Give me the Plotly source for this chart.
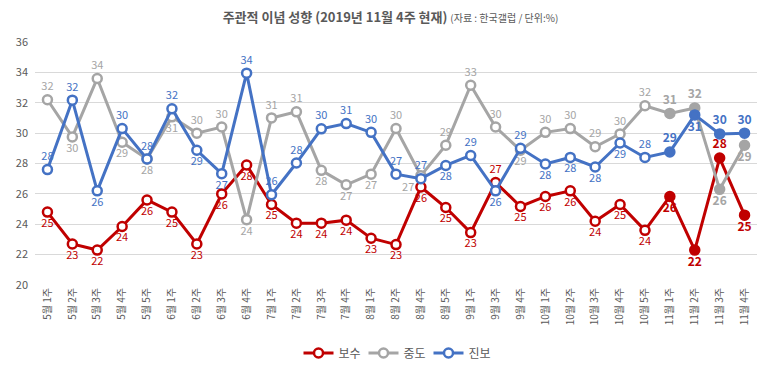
import plotly.graph_objects as go

categories = ["5월 1주", "5월 2주", "5월 3주", "5월 4주", "5월 5주",
              "6월 1주", "6월 2주", "6월 3주", "6월 4주",
              "7월 1주", "7월 2주", "7월 3주", "7월 4주",
              "8월 1주", "8월 2주", "8월 4주", "8월 5주",
              "9월 1주", "9월 3주", "9월 4주",
              "10월 1주", "10월 2주", "10월 3주", "10월 4주", "10월 5주",
              "11월 1주", "11월 2주", "11월 3주", "11월 4주"]

bosu = [24.8, 22.7, 22.3, 23.85, 25.6, 24.8, 22.7, 26.0, 27.9,
        25.3, 24.07, 24.07, 24.27, 23.08, 22.66, 26.45, 25.1,
        23.45, 26.75, 25.17, 25.83, 26.2, 24.2, 25.3, 23.6,
        25.83, 22.3, 28.36, 24.6]
jungdo = [32.2, 29.75, 33.6, 29.4, 28.3, 31.07, 30.0, 30.4, 24.3,
          31.0, 31.4, 27.55, 26.6, 27.3, 30.3, 27.2, 29.2,
          33.15, 30.4, 28.87, 30.05, 30.3, 29.1, 29.95, 31.8,
          31.3, 31.66, 26.3, 29.2]
jinbo = [27.6, 32.17, 26.2, 30.3, 28.3, 31.6, 28.87, 27.33, 33.95,
         25.94, 28.03, 30.28, 30.63, 30.05, 27.3, 27.0, 27.87,
         28.53, 26.2, 29.0, 27.97, 28.4, 27.77, 29.35, 28.4,
         28.76, 31.2, 29.95, 30.0]

# label placement: T = above, B = below, L = below-left
bosu_pos = "BBBBBBBBBBBBBBBBBBTBBBBBBBBTB"
jungdo_pos = "TBTBBBTTBTTBBBTLTTTBTTTTTTTBB"
jinbo_pos = "TTBTTTBBTTTTTTTTBTBTBBBBTTBTT"
POS = {"T": "top center", "B": "bottom center", "L": "bottom left"}

N_FILLED = 4  # last weeks drawn with filled markers and bold labels

series = [("보수", bosu, bosu_pos, "#C00000"),
          ("중도", jungdo, jungdo_pos, "#A5A5A5"),
          ("진보", jinbo, jinbo_pos, "#4472C4")]

FONT = "Noto Sans CJK KR"

fig = go.Figure()
n = len(categories)
for name, vals, pos, col in series:
    texts = []
    for i, v in enumerate(vals):
        t = str(int(v + 0.5))
        if i >= n - N_FILLED:
            t = "<b>" + t + "</b>"
        texts.append(t)
    tpos = [POS[p] for p in pos]
    mcol = ["white" if i < n - N_FILLED else col for i in range(n)]
    tsize = [11 if i < n - N_FILLED else 12 for i in range(n)]
    fig.add_trace(go.Scatter(
        x=categories, y=vals, name=name, mode="lines+markers+text",
        line=dict(color=col, width=3),
        marker=dict(symbol="circle", size=9, color=mcol,
                    line=dict(color=col, width=2.5)),
        text=texts, textposition=tpos,
        textfont=dict(color=col, size=tsize, family=FONT),
        cliponaxis=False,
    ))

# page body adds an 8px margin, so the figure is sized to fit the window
fig.update_layout(
    width=765, height=370,
    margin=dict(l=27, r=16, t=34, b=93, autoexpand=False),
    paper_bgcolor="white", plot_bgcolor="white",
    font=dict(family=FONT, color="#595959", size=11),
    title=dict(
        text="<b>주관적 이념 성향 (2019년 11월 4주 현재)</b> "
             "<span style='font-size:10px'>(자료 : 한국갤럽 / 단위:%)</span>",
        x=0.5, xanchor="center", y=0.975, yanchor="middle",
        font=dict(size=13, color="#595959", family=FONT)),
    showlegend=True,
    legend=dict(orientation="h", x=0.5, xanchor="center", y=-0.28,
                yanchor="middle", font=dict(size=12, color="#595959"),
                itemwidth=30, entrywidth=20, entrywidthmode="pixels",
                tracegroupgap=0),
)
fig.update_xaxes(type="category", tickangle=-90, showgrid=False,
                 showline=False, ticks="", tickfont=dict(size=10),
                 range=[-0.5, n - 0.5], automargin=False)
fig.update_yaxes(range=[20, 36], dtick=2, showgrid=True, gridcolor="#D9D9D9",
                 gridwidth=1, zeroline=False, showline=False, ticks="",
                 tickfont=dict(size=11), ticklabelstandoff=6, automargin=False)

fig.write_html("out.html")
